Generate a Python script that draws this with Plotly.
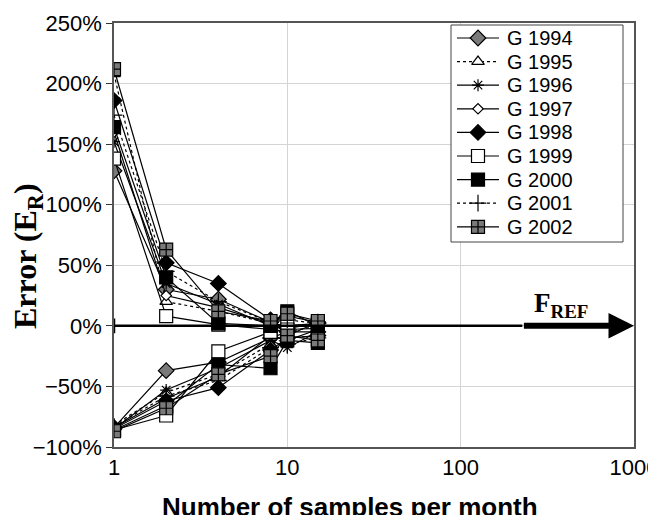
import numpy as np
import plotly.graph_objects as go

# Sampling frequencies (samples per month)
samples = [1, 2, 4, 8, 10, 15]

years = ["G 1994", "G 1995", "G 1996", "G 1997", "G 1998",
         "G 1999", "G 2000", "G 2001", "G 2002"]

# Upper bound of relative error (%) per year
upper_1994 = [128, 30, 22, 3, -2, 2]
upper_1995 = [208, 20, 12, 2, -5, 0]
upper_1996 = [152, 35, 18, 0, -8, 3]
upper_1997 = [160, 25, 15, 2, 0, 1]
upper_1998 = [186, 52, 35, 5, 8, 3]
upper_1999 = [138, 8, 1, -3, 0, 2]
upper_2000 = [164, 40, 2, 0, 12, 0]
upper_2001 = [174, 45, 20, 3, 5, 2]
upper_2002 = [212, 63, 12, 4, 10, 4]

# Lower bound of relative error (%) per year
lower_1994 = [-84, -37, -30, -10, -5, -5]
lower_1995 = [-82, -55, -40, -15, -10, -8]
lower_1996 = [-85, -53, -35, -12, -18, -5]
lower_1997 = [-84, -60, -42, -8, -12, -3]
lower_1998 = [-85, -62, -51, -20, -10, -8]
lower_1999 = [-86, -74, -21, -5, -3, -2]
lower_2000 = [-86, -66, -32, -35, -12, -14]
lower_2001 = [-83, -58, -45, -18, -15, -10]
lower_2002 = [-87, -68, -40, -25, -8, -12]

uppers = [upper_1994, upper_1995, upper_1996, upper_1997, upper_1998,
          upper_1999, upper_2000, upper_2001, upper_2002]
lowers = [lower_1994, lower_1995, lower_1996, lower_1997, lower_1998,
          lower_1999, lower_2000, lower_2001, lower_2002]

# Marker / line styling per year
styles = [
    dict(symbol="diamond", size=12, color="#7a7a7a", dash="solid"),
    dict(symbol="triangle-up", size=11, color="white", dash="dot"),
    dict(symbol="asterisk-open", size=10, color="black", dash="solid"),
    dict(symbol="diamond", size=8, color="white", dash="solid"),
    dict(symbol="diamond", size=12, color="black", dash="solid"),
    dict(symbol="square", size=13, color="white", dash="solid"),
    dict(symbol="square", size=13, color="black", dash="solid"),
    dict(symbol="cross-thin-open", size=12, color="black", dash="dot"),
    dict(symbol="square-cross", size=13, color="#7a7a7a", dash="solid"),
]

SANS = "Liberation Sans, Arial"
SERIF = "Liberation Serif, Times New Roman"

# Plot area in pixels and axis ranges
PL, PR, PT, PB = 114, 634, 23, 447
XLOG = (0, 3)
YR = (-100, 250)


def px_to_x(px):
    return 10 ** (XLOG[0] + (px - PL) / (PR - PL) * (XLOG[1] - XLOG[0]))


def px_to_y(py):
    return YR[1] - (py - PT) / (PB - PT) * (YR[1] - YR[0])


fig = go.Figure()

for name, up, lo, st in zip(years, uppers, lowers, styles):
    for vals in (up, lo):
        fig.add_trace(go.Scatter(
            x=samples, y=vals, name=name, showlegend=False,
            mode="lines+markers",
            line=dict(color="black", width=1.2, dash=st["dash"]),
            marker=dict(symbol=st["symbol"], size=st["size"],
                        color=st["color"],
                        line=dict(color="black", width=1.2)),
        ))

# Legend: white box over the grid, entries on a pixel-scaled overlay axis
box_left, box_right, box_top, box_bottom = 451, 623, 25, 242
row0, row_step = 38, 23.6
fig.add_shape(type="rect", xref="x", yref="y", layer="between",
              x0=px_to_x(box_left), x1=px_to_x(box_right),
              y0=px_to_y(box_top), y1=px_to_y(box_bottom),
              fillcolor="white", line=dict(color="#444", width=1))
for i, (name, st) in enumerate(zip(years, styles)):
    yy = row0 + i * row_step
    fig.add_trace(go.Scatter(
        x=[457, 478, 499], y=[yy, yy, yy], xaxis="x2", yaxis="y2",
        mode="lines", showlegend=False, hoverinfo="skip",
        line=dict(color="black", width=1.2, dash=st["dash"]),
    ))
    fig.add_trace(go.Scatter(
        x=[478], y=[yy], xaxis="x2", yaxis="y2",
        mode="markers", showlegend=False, hoverinfo="skip",
        marker=dict(symbol=st["symbol"], size=st["size"],
                    color=st["color"], line=dict(color="black", width=1.2)),
    ))
    fig.add_annotation(x=505, y=yy, xref="x2", yref="y2", text=name,
                       showarrow=False, xanchor="left", yanchor="middle",
                       font=dict(family=SANS, size=20, color="black"))

# Zero reference line and F_REF arrow
thick_start = 227
fig.add_shape(type="line", xref="x", yref="y",
              x0=1, x1=thick_start, y0=0, y1=0,
              line=dict(color="black", width=2.5))
fig.add_shape(type="line", xref="x", yref="y",
              x0=1, x1=1, y0=-6, y1=6,
              line=dict(color="black", width=2.5))
fig.add_annotation(x=3, y=0, ax=np.log10(thick_start), ay=0,
                   xref="x", yref="y", axref="x", ayref="y",
                   text="", showarrow=True, arrowhead=2,
                   arrowwidth=6, arrowsize=0.85, arrowcolor="black")
fig.add_annotation(x=np.log10(380), y=17, xref="x", yref="y",
                   text="<b>F<sub>REF</sub></b>", showarrow=False,
                   font=dict(family=SERIF, size=27, color="black"))

# Axis titles
fig.add_annotation(x=(27 - PL) / (PR - PL), y=(PB - 256) / (PB - PT),
                   xref="paper", yref="paper", textangle=-90,
                   xanchor="center", yanchor="middle",
                   text="<b>Error (E<sub>R</sub>)</b>", showarrow=False,
                   font=dict(family=SERIF, size=32, color="black"))
fig.add_annotation(x=(350 - PL) / (PR - PL), y=(PB - 490) / (PB - PT),
                   xref="paper", yref="paper",
                   xanchor="center", yanchor="top",
                   text="<b>Number of samples per month</b>", showarrow=False,
                   font=dict(family=SANS, size=26, color="black"))

fig.update_xaxes(type="log", range=list(XLOG), automargin=False,
                 tickvals=[1, 10, 100, 1000],
                 ticktext=["1", "10", "100", "1000"],
                 ticklabeloverflow="allow",
                 showgrid=True, gridcolor="#d4d4d4", gridwidth=1,
                 showline=True, linecolor="#555", linewidth=1.5, mirror=True,
                 ticks="", zeroline=False,
                 tickfont=dict(family=SANS, size=22, color="black"))
fig.update_yaxes(range=list(YR), dtick=50, ticksuffix="%", automargin=False,
                 showgrid=True, gridcolor="#d4d4d4", gridwidth=1,
                 showline=True, linecolor="#555", linewidth=1.5, mirror=True,
                 ticks="outside", ticklen=6, tickcolor="#333",
                 zeroline=False,
                 tickfont=dict(family=SANS, size=22, color="black"))

fig.update_layout(
    width=648, height=515,
    margin=dict(l=PL, r=648 - PR, t=PT, b=515 - PB),
    plot_bgcolor="white", paper_bgcolor="white",
    showlegend=False,
    xaxis2=dict(overlaying="x", range=[PL, PR], visible=False,
                fixedrange=True, automargin=False),
    yaxis2=dict(overlaying="y", range=[PB, PT], visible=False,
                fixedrange=True, automargin=False),
)

fig.write_html("out.html")
